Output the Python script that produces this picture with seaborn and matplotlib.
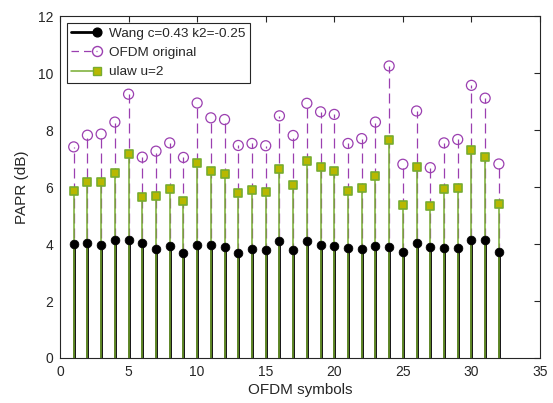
import numpy as np
import pandas as pd
import matplotlib
matplotlib.use('Agg')
import matplotlib.pyplot as plt
import seaborn as sns
from matplotlib.lines import Line2D
from matplotlib.legend_handler import HandlerLine2D

# PAPR per OFDM symbol
symbols = list(range(1, 33))
papr_original = [7.41, 7.82, 7.86, 8.28, 9.26, 7.05, 7.26, 7.55, 7.04, 8.95,
                 8.43, 8.37, 7.46, 7.53, 7.45, 8.50, 7.81, 8.94, 8.64, 8.55,
                 7.53, 7.70, 8.28, 10.25, 6.80, 8.67, 6.68, 7.55, 7.67, 9.57,
                 9.12, 6.81]
papr_ulaw = [5.86, 6.16, 6.16, 6.48, 7.15, 5.64, 5.70, 5.92, 5.52, 6.85,
             6.57, 6.47, 5.80, 5.89, 5.81, 6.62, 6.07, 6.92, 6.69, 6.58,
             5.87, 5.98, 6.40, 7.65, 5.37, 6.69, 5.35, 5.92, 5.98, 7.31,
             7.04, 5.39]
papr_wang = [3.99, 4.04, 3.95, 4.13, 4.15, 4.04, 3.82, 3.93, 3.67, 3.95,
             3.96, 3.88, 3.70, 3.84, 3.80, 4.12, 3.80, 4.12, 3.96, 3.92,
             3.85, 3.84, 3.94, 3.89, 3.73, 4.04, 3.91, 3.85, 3.86, 4.13,
             4.14, 3.73]

x_ticks = [0, 5, 10, 15, 20, 25, 30, 35]
y_ticks = [0, 2, 4, 6, 8, 10, 12]

purple = '#9B3FB0'
green = '#77AC30'
square_face = '#B8B800'
axis_col = '#262626'


class StemHandler(HandlerLine2D):
    # matlab style stem legend icon: line with marker at the right end
    def create_artists(self, legend, orig_handle, xdescent, ydescent,
                       width, height, fontsize, trans):
        y = height / 2 - ydescent
        line = Line2D([-xdescent, width - xdescent], [y, y])
        self.update_prop(line, orig_handle, legend)
        line.set_marker('')
        line.set_transform(trans)
        mark = Line2D([width - xdescent], [y])
        self.update_prop(mark, orig_handle, legend)
        mark.set_linestyle('none')
        mark.set_transform(trans)
        return [line, mark]


df = pd.DataFrame({'symbol': symbols, 'original': papr_original,
                   'ulaw': papr_ulaw, 'wang': papr_wang})

sns.set_style('white')
plt.rcParams['font.family'] = ['Liberation Sans', 'DejaVu Sans']

fig = plt.figure(figsize=(5.53, 4.03), dpi=100)
ax = fig.add_axes([0.1085, 0.1117, 0.868, 0.8483])

# stems
ax.vlines(df['symbol'], 0, df['original'], colors=purple, linestyles=(0, (8, 4)),
          linewidth=0.9, zorder=1)
ax.vlines(df['symbol'], 0, df['wang'], colors='black', linewidth=2.0, zorder=2)
ax.vlines(df['symbol'], 0, df['ulaw'], colors=green, linewidth=1.1, zorder=3)

# markers
sns.scatterplot(data=df, x='symbol', y='original', ax=ax, marker='o', s=52,
                facecolor='none', edgecolor=purple, linewidth=0.9, zorder=4)
sns.scatterplot(data=df, x='symbol', y='wang', ax=ax, marker='o', s=40,
                color='black', edgecolor='black', zorder=5)
sns.scatterplot(data=df, x='symbol', y='ulaw', ax=ax, marker='s', s=26,
                color=square_face, edgecolor=green, linewidth=1.2, zorder=6)

ax.set_xlim(0, 35)
ax.set_ylim(0, 12)
ax.set_xticks(x_ticks)
ax.set_yticks(y_ticks)
ax.set_xlabel('OFDM symbols', fontsize=11, labelpad=3, color=axis_col)
ax.set_ylabel('PAPR (dB)', fontsize=11, labelpad=6, color=axis_col)
ax.tick_params(direction='in', length=4, top=True, right=True, labelsize=10,
               colors=axis_col, width=0.8, pad=5)
for sp in ax.spines.values():
    sp.set_color(axis_col)
    sp.set_linewidth(0.8)

handles = [
    Line2D([], [], color='black', lw=2.0, marker='o', markersize=6.3,
           markerfacecolor='black'),
    Line2D([], [], color=purple, lw=0.9, ls=(0, (6, 4)), marker='o',
           markersize=7.2, markerfacecolor='none'),
    Line2D([], [], color=green, lw=1.1, marker='s', markersize=5.5,
           markerfacecolor=square_face, markeredgecolor=green),
]
labels = ['Wang c=0.43 k2=-0.25', 'OFDM original', 'ulaw u=2']
leg = ax.legend(handles, labels, loc='upper left', fontsize=9.7, frameon=True,
                fancybox=False, edgecolor=axis_col, framealpha=1,
                borderaxespad=0.5, handlelength=1.9, labelspacing=0.5,
                borderpad=0.35, handletextpad=0.9,
                handler_map={Line2D: StemHandler()})
leg.get_frame().set_linewidth(0.8)

fig.savefig('out.png', dpi=100)
